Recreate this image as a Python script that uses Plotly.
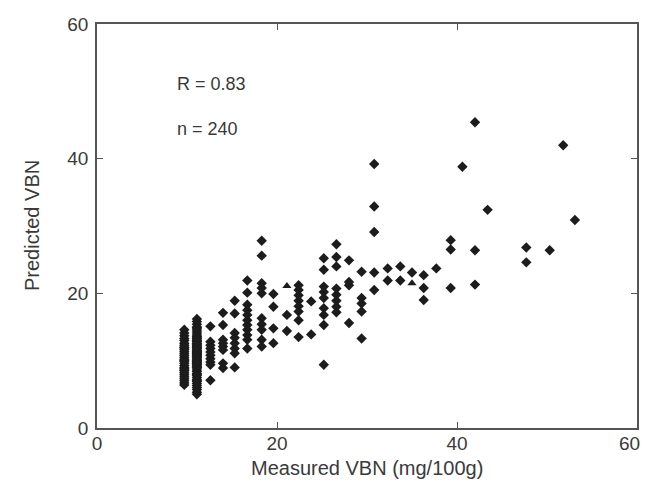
import plotly.graph_objects as go

# Measured VBN (x) columns and the predicted VBN (y) values
col_x = [9.7, 11.1, 12.6, 14.0, 15.3, 16.7, 18.3, 19.6, 21.1, 22.4, 23.8, 25.2,
         26.6, 28.0, 29.4, 30.8, 32.3, 33.7, 35.0, 36.3, 37.7, 39.3, 40.6, 42.0,
         43.4, 47.7, 50.3, 51.8, 53.1]

col_y = [
    [14.6, 14.1, 13.7, 13.3, 13.0, 12.6, 12.3, 12.0, 11.7, 11.4, 11.1, 10.8, 10.5,
     10.2, 9.9, 9.6, 9.3, 9.0, 8.8, 8.5, 8.2, 7.9, 7.6, 7.3, 7.0, 6.7, 6.4, 11.9,
     10.0, 8.6],
    [16.2, 15.8, 15.4, 15.0, 14.7, 14.4, 14.1, 13.8, 13.5, 13.2, 12.9, 12.6, 12.4,
     12.1, 11.9, 11.6, 11.4, 11.1, 10.9, 10.6, 10.4, 10.1, 9.9, 9.6, 9.4, 9.1, 8.9,
     8.6, 8.4, 8.1, 7.8, 7.5, 7.2, 6.9, 6.6, 6.3, 6.0, 5.7, 5.3, 5.0, 13.0, 12.2,
     11.8, 11.2, 10.8, 10.2, 9.8, 9.2, 12.8, 11.5, 10.5, 9.5, 13.6, 14.9, 8.0, 7.0,
     12.5, 11.0, 10.0, 9.0, 13.3, 11.3, 10.7, 9.7, 12.0],
    [15.1, 12.8, 12.3, 11.8, 11.3, 10.8, 10.3, 9.8, 9.4, 7.1],
    [17.1, 15.3, 13.1, 12.6, 12.1, 11.6, 9.6, 8.9],
    [18.9, 17.0, 14.1, 13.4, 12.6, 11.8, 11.1, 9.0],
    [21.9, 20.1, 18.3, 17.5, 16.8, 16.0, 15.3, 14.6, 13.8, 13.1, 11.8],
    [27.8, 25.6, 21.5, 20.8, 20.0, 16.3, 15.4, 14.6, 13.1, 12.1],
    [19.9, 18.0, 14.8, 12.6],
    [16.8, 14.4],
    [21.2, 20.5, 19.7, 18.9, 18.1, 17.3, 16.0, 13.5],
    [18.8, 13.9],
    [25.2, 23.5, 21.0, 20.2, 19.3, 17.8, 16.8, 15.3, 9.4],
    [27.3, 25.4, 24.0, 20.7, 19.8, 18.9, 18.0, 17.2],
    [24.9, 21.7, 21.2, 15.6],
    [23.2, 19.3, 18.5, 17.3, 13.3],
    [39.2, 32.9, 29.1, 23.1, 20.5],
    [23.7, 21.9],
    [24.0, 21.9],
    [23.1],
    [22.7, 20.8, 19.0],
    [23.7],
    [27.9, 26.5, 20.8],
    [38.8],
    [45.4, 26.4, 21.3],
    [32.4],
    [26.8, 24.6],
    [26.4],
    [42.0],
    [30.9],
]

# two points drawn with a triangle glyph in the original
tri_x = [21.1, 35.0]
tri_y = [21.1, 21.5]

x_ticks = [0, 20, 40, 60]
x_tick_labels = ["0", "20", "40", "60"]
y_ticks = [0, 20, 40, 60]
y_tick_labels = ["0", "20", "40", "60"]
x_title = "Measured VBN (mg/100g)"
y_title = "Predicted VBN"
stats_text = ["R = 0.83", "n = 240"]
stats_y = [51.1, 44.4]

xs, ys = [], []
for cx, cys in zip(col_x, col_y):
    for v in cys:
        xs.append(cx)
        ys.append(v)

ink = "#1c1c1c"
fig = go.Figure()
fig.add_trace(go.Scatter(x=xs, y=ys, mode="markers",
                         marker=dict(symbol="diamond", size=8, color=ink,
                                     line=dict(width=0, color=ink)),
                         showlegend=False, hoverinfo="skip"))
fig.add_trace(go.Scatter(x=tri_x, y=tri_y, mode="markers",
                         marker=dict(symbol="triangle-up", size=8, color=ink,
                                     line=dict(width=0, color=ink)),
                         showlegend=False, hoverinfo="skip"))

font_family = "Liberation Sans, Arial, sans-serif"
text_color = "#3a3a3a"
tick_font = dict(family=font_family, size=19, color=text_color)
axis_common = dict(showgrid=False, zeroline=False, showline=True, mirror="ticks",
                   linecolor="#555555", linewidth=1.5, ticks="inside", ticklen=6,
                   tickwidth=1.2, tickcolor="#555555", automargin=False,
                   tickfont=tick_font)

# the last x tick label sits at the page edge, so it is drawn as an annotation
x_text_on_axis = x_tick_labels[:-1] + [""]

fig.update_layout(
    width=632, height=472,
    margin=dict(l=89, r=3, t=16, b=52),
    paper_bgcolor="white", plot_bgcolor="white",
    xaxis=dict(range=[0, 60], tickvals=x_ticks, ticktext=x_text_on_axis,
               ticklabelstandoff=-3, **axis_common),
    yaxis=dict(range=[0, 60], tickvals=y_ticks, ticktext=y_tick_labels,
               ticklabelstandoff=3, **axis_common),
)

fig.add_annotation(x=x_ticks[-1], y=0, xref="x", yref="paper", text=x_tick_labels[-1],
                   showarrow=False, xanchor="center", yanchor="middle",
                   xshift=-8, yshift=-15, font=tick_font)

fig.add_annotation(x=0.5, y=0, xref="paper", yref="paper", text=x_title,
                   showarrow=False, xanchor="center", yanchor="middle", yshift=-40,
                   font=dict(family=font_family, size=20, color=text_color))
fig.add_annotation(x=0, y=0.5, xref="paper", yref="paper", text=y_title,
                   showarrow=False, xanchor="center", yanchor="middle", xshift=-65,
                   textangle=-90,
                   font=dict(family=font_family, size=20, color=text_color))

for t, yv in zip(stats_text, stats_y):
    fig.add_annotation(x=8.7, y=yv, xref="x", yref="y", text=t, showarrow=False,
                       xanchor="left", yanchor="middle",
                       font=dict(family=font_family, size=18, color=text_color))

fig.write_html("out.html")
